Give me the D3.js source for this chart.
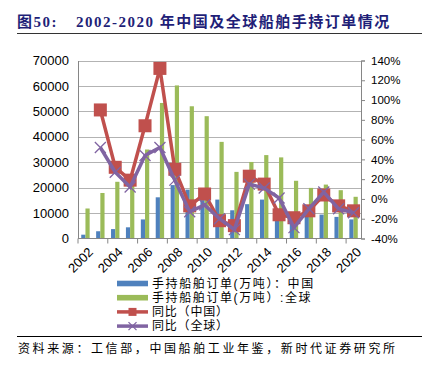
<!DOCTYPE html>
<head>
<meta charset="utf-8">
<style>
body { margin: 0; background: #fff; }
text { font-family: "Liberation Sans", Arial, sans-serif; fill: #000; }
.cjk { font-family: "Noto Sans CJK SC", sans-serif; }
.leg { font-family: "Liberation Sans", "Noto Sans CJK SC", sans-serif; }
.grid line { stroke: #b3b3b3; stroke-width: 1px; }
</style>
<title>船舶手持订单</title>
</head>
<body>
<script src="https://cdn.jsdelivr.net/npm/d3@7/dist/d3.min.js"></script>
<script>

var width = 422, height = 372;

// data
var years = d3.range(2002, 2021).map(String);
var chinaOrders = [1500, 2850, 3700, 4400, 7500, 16200, 21000, 19200, 15100, 15300, 11100, 13500, 15300, 11000, 9000, 9200, 9400, 8500, 7500];
var globalOrders = [11800, 17900, 22300, 25000, 35000, 53300, 60200, 52000, 48100, 38000, 26200, 30100, 32800, 31900, 22700, 19900, 21200, 19000, 16400];
var chinaYoY = [null, 90, 32, 19, 74, 132, 30, -7, 5, -22, -27, 23, 15, -16, -19, -12, 4, -7, -12];
var globalYoY = [null, 52, 27, 12, 44, 52, 19, -13, -6, -20, -31, 15, 11, 1, -29, -10, 7, -10, -14];
var leftTicks = d3.range(0, 70001, 10000);
var rightTicks = d3.range(-40, 141, 20);
var legendLabels = ["手持船舶订单(万吨）：中国", "手持船舶订单(万吨）:全球", "同比（中国）", "同比（全球）"];

var colors = { china: "#4f81bd", global: "#9bbb59", chinaLine: "#c0504d", globalLine: "#8064a2" };

var margin = { left: 78, right: 361, top: 60.5, bottom: 238.5 };

var svg = d3.select("body").append("svg")
    .attr("width", width)
    .attr("height", height);

// title
var title = svg.append("text")
    .attr("x", 17)
    .attr("y", 27)
    .style("font-size", "15px")
    .style("font-weight", "bold")
    .style("letter-spacing", "1.5px")
    .style("fill", "#1f1f78");
title.append("tspan").attr("class", "cjk").text("图");
title.append("tspan").style("font-family", "Liberation Serif").text("50:");
title.append("tspan").attr("x", 76).style("font-family", "Liberation Serif").text("2002-2020 ");
title.append("tspan").attr("class", "cjk").text("年中国及全球船舶手持订单情况");

svg.append("line")
    .attr("x1", 17).attr("x2", 422)
    .attr("y1", 33.5).attr("y2", 33.5)
    .style("stroke", "#333").style("stroke-width", 1);

// scales
var x = d3.scaleBand()
    .domain(years)
    .range([margin.left, margin.right]);

var yL = d3.scaleLinear()
    .domain([0, 70000])
    .range([margin.bottom, margin.top]);

var yR = d3.scaleLinear()
    .domain([-40, 140])
    .range([margin.bottom, margin.top]);

var barW = 4.2;
function cx(d) { return x(d) + x.bandwidth() / 2; }

// gridlines
svg.append("g").attr("class", "grid")
  .selectAll("line")
    .data(leftTicks.slice(1))
  .enter().append("line")
    .attr("x1", margin.left).attr("x2", margin.right)
    .attr("y1", function(d) { return Math.round(yL(d)) + 0.5; })
    .attr("y2", function(d) { return Math.round(yL(d)) + 0.5; });

// bars
svg.append("g").selectAll("rect")
    .data(years)
  .enter().append("rect")
    .attr("x", function(d) { return cx(d) - barW; })
    .attr("y", function(d, i) { return yL(chinaOrders[i]); })
    .attr("width", barW)
    .attr("height", function(d, i) { return yL(0) - yL(chinaOrders[i]); })
    .style("fill", colors.china);

svg.append("g").selectAll("rect")
    .data(years)
  .enter().append("rect")
    .attr("x", function(d) { return cx(d); })
    .attr("y", function(d, i) { return yL(globalOrders[i]); })
    .attr("width", barW)
    .attr("height", function(d, i) { return yL(0) - yL(globalOrders[i]); })
    .style("fill", colors.global);

// left axis
var axL = svg.append("g")
    .attr("transform", "translate(" + margin.left + ",0)")
    .call(d3.axisLeft(yL).tickValues(leftTicks).tickSize(0).tickPadding(9).tickFormat(d3.format("d")));
axL.select(".domain").style("stroke", "#868686");
axL.selectAll("text").style("font-size", "13px").style("font-family", "Liberation Sans");

// right axis
var axR = svg.append("g")
    .attr("transform", "translate(" + margin.right + ",0)")
    .call(d3.axisRight(yR).tickValues(rightTicks).tickSize(4).tickPadding(6).tickFormat(function(d) { return d + "%"; }));
axR.select(".domain").style("stroke", "#868686");
axR.selectAll("line").style("stroke", "#868686");
axR.selectAll("text").style("font-size", "11.5px").style("font-family", "Liberation Sans");

// bottom axis
var axB = svg.append("g")
    .attr("transform", "translate(0," + margin.bottom + ")");
axB.append("line")
    .attr("x1", margin.left).attr("x2", margin.right)
    .style("stroke", "#868686");
axB.selectAll(".tick")
    .data(years.filter(function(d, i) { return i % 2 == 0; }))
  .enter().append("line")
    .attr("x1", function(d) { return x(d); })
    .attr("x2", function(d) { return x(d); })
    .attr("y1", 0).attr("y2", 5)
    .style("stroke", "#868686");
axB.selectAll("text")
    .data(years.filter(function(d, i) { return i % 2 == 0; }))
  .enter().append("text")
    .attr("transform", function(d) { return "translate(" + (cx(d) + 2) + ",8)rotate(-45)"; })
    .attr("text-anchor", "end")
    .attr("dy", "0.7em")
    .style("font-size", "13px")
    .text(function(d) { return d; });

// lines
var line = d3.line()
    .defined(function(d) { return d[1] != null; })
    .x(function(d) { return cx(d[0]); })
    .y(function(d) { return yR(d[1]); });

var chinaPts = years.map(function(d, i) { return [d, chinaYoY[i]]; });
var globalPts = years.map(function(d, i) { return [d, globalYoY[i]]; });

svg.append("path")
    .datum(chinaPts)
    .attr("d", line)
    .style("fill", "none")
    .style("stroke", colors.chinaLine)
    .style("stroke-width", 3.5);

svg.append("g").selectAll("rect")
    .data(chinaPts.filter(function(d) { return d[1] != null; }))
  .enter().append("rect")
    .attr("x", function(d) { return cx(d[0]) - 6.5; })
    .attr("y", function(d) { return yR(d[1]) - 6.5; })
    .attr("width", 13).attr("height", 13)
    .style("fill", colors.chinaLine);

svg.append("path")
    .datum(globalPts)
    .attr("d", line)
    .style("fill", "none")
    .style("stroke", colors.globalLine)
    .style("stroke-width", 3.5);

function cross(sel, s) {
  sel.append("path")
    .attr("d", "M" + (-s) + "," + (-s) + "L" + s + "," + s + "M" + (-s) + "," + s + "L" + s + "," + (-s))
    .style("fill", "none")
    .style("stroke", colors.globalLine)
    .style("stroke-width", 1.3);
}

svg.append("g").selectAll("g")
    .data(globalPts.filter(function(d) { return d[1] != null; }))
  .enter().append("g")
    .attr("transform", function(d) { return "translate(" + cx(d[0]) + "," + yR(d[1]) + ")"; })
    .call(cross, 5.5);

// legend
var legend = svg.append("g")
    .selectAll("g")
    .data(legendLabels)
  .enter().append("g")
    .attr("transform", function(d, i) { return "translate(117," + (283.5 + i * 14.2) + ")"; });

legend.each(function(d, i) {
  var g = d3.select(this);
  if (i < 2) {
    g.append("rect")
      .attr("x", 0).attr("y", -2.8)
      .attr("width", 31).attr("height", 5.6)
      .style("fill", i == 0 ? colors.china : colors.global);
  } else {
    var c = i == 2 ? colors.chinaLine : colors.globalLine;
    g.append("line")
      .attr("x1", 0).attr("x2", 31)
      .style("stroke", c).style("stroke-width", 3.5);
    if (i == 2) {
      g.append("rect")
        .attr("x", 11.5).attr("y", -4)
        .attr("width", 8).attr("height", 8)
        .style("fill", c);
    } else {
      g.append("g").attr("transform", "translate(15.5,0)").call(cross, 4);
    }
  }
  g.append("text")
    .attr("class", "leg")
    .attr("x", 35)
    .attr("y", 4.3)
    .style("font-size", "12px")
    .style("letter-spacing", i < 2 ? "1.6px" : "0.8px")
    .text(d);
});

// source
svg.append("line")
    .attr("x1", 17).attr("x2", 422)
    .attr("y1", 336.5).attr("y2", 336.5)
    .style("stroke", "#000").style("stroke-width", 1);

svg.append("text")
    .attr("class", "cjk")
    .attr("x", 18)
    .attr("y", 353)
    .style("font-size", "12px")
    .style("letter-spacing", "2.6px")
    .text("资料来源：工信部，中国船舶工业年鉴，新时代证券研究所");

</script>
</body>
